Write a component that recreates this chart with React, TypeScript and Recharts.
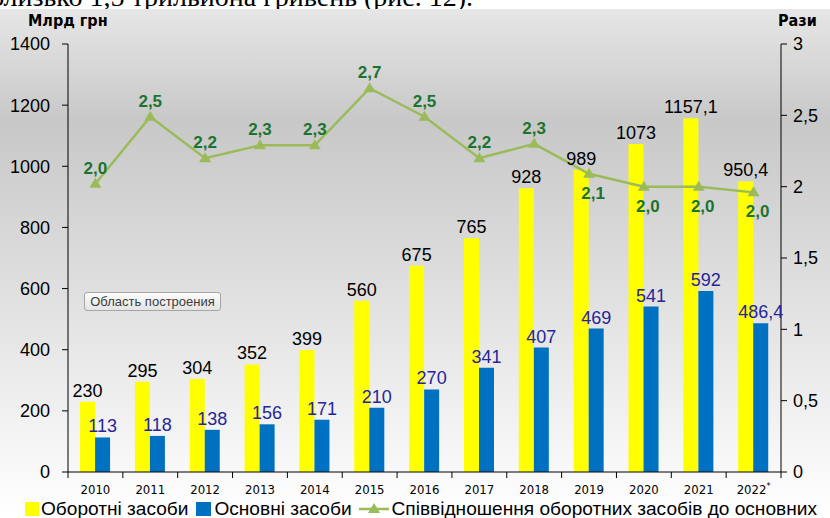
import React from 'react';
import { ComposedChart, Bar, Line, XAxis, YAxis, LabelList } from 'recharts';

const years = ['2010', '2011', '2012', '2013', '2014', '2015', '2016', '2017', '2018', '2019', '2020', '2021', '2022*'];
const currentAssets = [230, 295, 304, 352, 399, 560, 675, 765, 928, 989, 1073, 1157.1, 950.4];
const fixedAssets = [113, 118, 138, 156, 171, 210, 270, 341, 407, 469, 541, 592, 486.4];
const ratio = [2.02, 2.49, 2.2, 2.29, 2.29, 2.69, 2.49, 2.2, 2.3, 2.09, 2.0, 2.0, 1.96];
const leftTicks = [0, 200, 400, 600, 800, 1000, 1200, 1400];
const rightTicks = [0, 0.5, 1, 1.5, 2, 2.5, 3];
const seriesNames = ['Оборотні засоби', 'Основні засоби', 'Співвідношення оборотних засобів до основних'];
const seriesColors = ['#FFFF00', '#0070C0', '#9BBB59'];
const leftTitle = 'Млрд грн';
const rightTitle = 'Рази';
const headerText = 'близько 1,5 трильйона гривень (рис. 12).';
const plotAreaHint = 'Область построения';

const data = years.map((y, i) => ({
  year: y,
  current: currentAssets[i],
  fixed: fixedAssets[i],
  ratio: ratio[i],
}));

const FONT = "'Liberation Sans', Arial, sans-serif";
const NARROW = "'Liberation Sans Narrow', 'DejaVu Sans Condensed', 'Liberation Sans', sans-serif";

const fmt = (v: any) => String(v).replace('.', ',');

const XTick = (props: any) => {
  const { x, y, payload, index } = props;
  const half = payload && typeof payload.offset === 'number' && payload.offset > 0 ? payload.offset : 27.4;
  const label = String(payload.value);
  const star = label.endsWith('*');
  const base = star ? label.slice(0, -1) : label;
  return (
    <g>
      <line x1={x - half} x2={x - half} y1={y} y2={y + 6} stroke="#000" strokeWidth={1} />
      {index === years.length - 1 && (
        <line x1={x + half} x2={x + half} y1={y} y2={y + 6} stroke="#000" strokeWidth={1} />
      )}
      <text x={x} y={y + 22} textAnchor="middle" fontSize={13} fontFamily={NARROW} fill="#000">
        {base}
        {star && (
          <tspan fontSize={9} dy={-5}>
            *
          </tspan>
        )}
      </text>
    </g>
  );
};

const Tri = (props: any) => {
  const { cx, cy } = props;
  if (cx == null || cy == null) return null;
  return <polygon points={`${cx},${cy - 6} ${cx - 6},${cy + 4} ${cx + 6},${cy + 4}`} fill="#9BBB59" />;
};

const RatioLabel = (props: any) => {
  const { x, y, value, index } = props;
  const below = index >= 9;
  return (
    <text
      x={x + (below ? 4 : 0)}
      y={below ? y + 25 : y - 10}
      textAnchor="middle"
      fill="#1A7430"
      fontWeight="bold"
      fontSize={17}
      fontFamily={FONT}
    >
      {Number(value).toFixed(1).replace('.', ',')}
    </text>
  );
};

export default function App() {
  return (
    <div
      style={{
        position: 'absolute',
        left: 0,
        top: 0,
        width: 830,
        height: 518,
        overflow: 'hidden',
        background: '#fff',
      }}
    >
      <svg width={830} height={9} style={{ position: 'absolute', left: 0, top: 0 }}>
        <text x={-10} y={6} fontFamily="'Liberation Serif', serif" fontSize={28} fill="#000">
          {headerText}
        </text>
      </svg>
      <div
        style={{
          position: 'absolute',
          left: 0,
          top: 9,
          width: 830,
          height: 509,
          background: 'linear-gradient(to bottom, #e6e6e6 0%, #c8c8c8 22%, #ffffff 100%)',
        }}
      />
      <svg width={830} height={40} style={{ position: 'absolute', left: 0, top: 0 }}>
        <text x={28} y={26} fontFamily={NARROW} fontWeight="bold" fontSize={16} fill="#000">
          {leftTitle}
        </text>
        <text x={778} y={26} fontFamily={NARROW} fontWeight="bold" fontSize={16} fill="#000">
          {rightTitle}
        </text>
      </svg>
      <div style={{ position: 'absolute', left: 0, top: 0 }}>
        <ComposedChart
          width={830}
          height={518}
          data={data}
          margin={{ top: 44, right: 0, bottom: 20, left: 0 }}
          barCategoryGap="22%"
          barGap={0}
        >
          <XAxis
            dataKey="year"
            height={26}
            tickSize={0}
            tickMargin={0}
            tickLine={false}
            axisLine={{ stroke: '#000' }}
            tick={<XTick />}
            interval={0}
          />
          <YAxis
            yAxisId="left"
            orientation="left"
            width={68}
            domain={[0, 1400]}
            ticks={leftTicks}
            interval={0}
            tickSize={6}
            tickMargin={12}
            axisLine={{ stroke: '#000' }}
            tickLine={{ stroke: '#000' }}
            tick={{ fill: '#000', fontSize: 18, fontFamily: FONT }}
          />
          <YAxis
            yAxisId="right"
            orientation="right"
            width={49}
            domain={[0, 3]}
            ticks={rightTicks}
            interval={0}
            tickSize={6}
            tickMargin={6}
            tickFormatter={fmt}
            axisLine={{ stroke: '#000' }}
            tickLine={{ stroke: '#000' }}
            tick={{ fill: '#000', fontSize: 18, fontFamily: FONT }}
          />
          <Bar yAxisId="left" dataKey="current" name={seriesNames[0]} fill={seriesColors[0]} isAnimationActive={false}>
            <LabelList dataKey="current" position="top" offset={5} formatter={fmt} fill="#000" fontSize={18} fontFamily={FONT} />
          </Bar>
          <Bar yAxisId="left" dataKey="fixed" name={seriesNames[1]} fill={seriesColors[1]} isAnimationActive={false}>
            <LabelList dataKey="fixed" position="top" offset={5} formatter={fmt} fill="#262699" fontSize={18} fontFamily={FONT} />
          </Bar>
          <Line
            yAxisId="right"
            dataKey="ratio"
            name={seriesNames[2]}
            stroke={seriesColors[2]}
            strokeWidth={2.5}
            dot={<Tri />}
            activeDot={false}
            isAnimationActive={false}
          >
            <LabelList dataKey="ratio" content={<RatioLabel />} />
          </Line>
        </ComposedChart>
      </div>
      <div
        style={{
          position: 'absolute',
          left: 84,
          top: 292,
          width: 137,
          height: 19,
          borderRadius: 3,
          border: '1px solid #a6a6a6',
          background: 'linear-gradient(to bottom, #fcfcfc, #e4e4e4)',
          fontFamily: FONT,
          fontSize: 13,
          color: '#3c3c3c',
          lineHeight: '17px',
          textAlign: 'center',
          boxSizing: 'border-box',
        }}
      >
        {plotAreaHint}
      </div>
      <div
        style={{
          position: 'absolute',
          left: 25,
          top: 499,
          height: 19,
          display: 'flex',
          alignItems: 'center',
          fontFamily: FONT,
          fontSize: 19.1,
          color: '#000',
          whiteSpace: 'nowrap',
        }}
      >
        <span style={{ width: 14, height: 14, background: seriesColors[0], display: 'inline-block', marginRight: 2 }} />
        <span style={{ marginRight: 8 }}>{seriesNames[0]}</span>
        <span style={{ width: 15, height: 14, background: seriesColors[1], display: 'inline-block', marginRight: 3 }} />
        <span style={{ marginRight: 6 }}>{seriesNames[1]}</span>
        <svg width={32} height={14} style={{ marginRight: 2 }}>
          <line x1={1} x2={31} y1={7} y2={7} stroke={seriesColors[2]} strokeWidth={2.5} />
          <polygon points="16,1 10,11 22,11" fill={seriesColors[2]} />
        </svg>
        <span>{seriesNames[2]}</span>
      </div>
    </div>
  );
}
